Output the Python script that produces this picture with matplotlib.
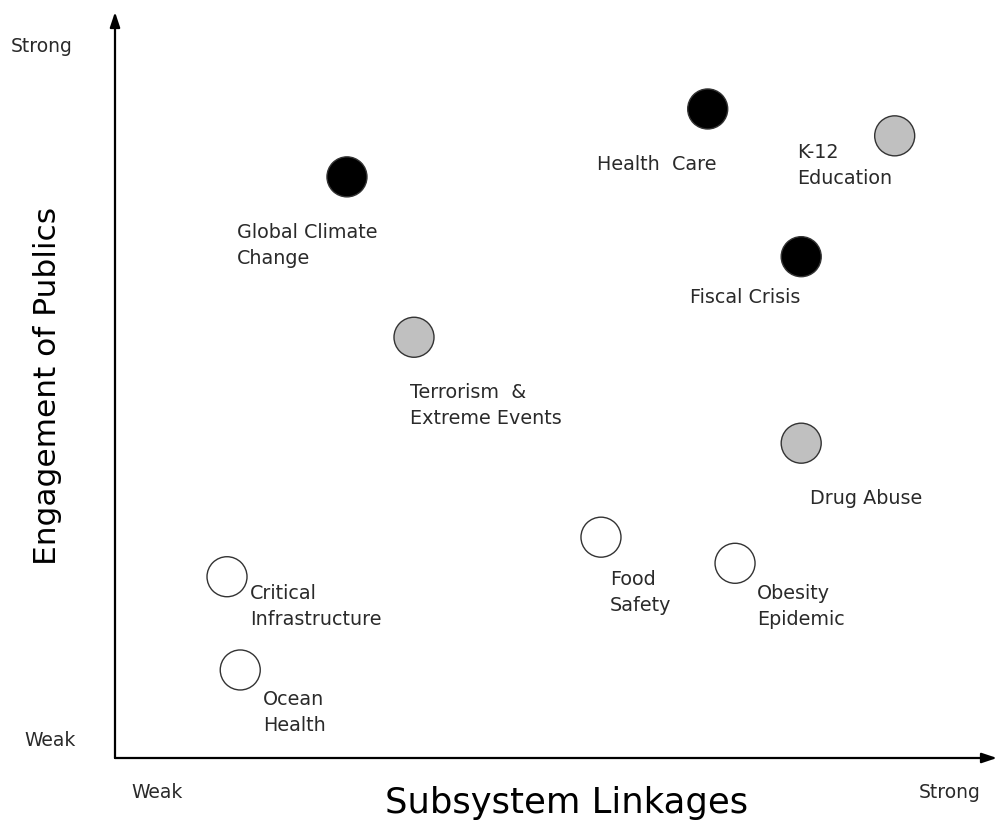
import matplotlib
matplotlib.use("Agg")
import matplotlib.pyplot as plt

# Data (0-10 scale: Weak -> Strong)
labels = ["Global Climate\nChange", "Health  Care", "K-12\nEducation", "Fiscal Crisis",
          "Terrorism  &\nExtreme Events", "Drug Abuse", "Food\nSafety",
          "Obesity\nEpidemic", "Critical\nInfrastructure", "Ocean\nHealth"]
linkages = [2.63, 6.72, 8.84, 7.78, 3.39, 7.78, 5.51, 7.03, 1.27, 1.42]
engagement = [7.79, 8.70, 8.34, 6.72, 5.64, 4.22, 2.96, 2.61, 2.43, 1.18]
fills = ["black", "black", "#c0c0c0", "black", "#c0c0c0", "#c0c0c0",
         "white", "white", "white", "white"]
# label offsets in pixels (dx, dy) from point centre
offsets_px = [(-110, -68.5), (-111, -56), (-98, -30), (-111, -41), (-4, -68.5),
              (9, -55), (9, -55.5), (22, -43.5), (23, -29.5), (23, -42.5)]

plt.rcParams['font.family'] = ['DejaVu Sans']
txt_color = '#2a2a2a'

W, H = 997, 825
fig = plt.figure(figsize=(W / 100, H / 100), dpi=100)
x0, y0, x1, y1 = 115, 758, 997, 12
ax = fig.add_axes([x0 / W, (H - y0) / H, (x1 - x0) / W, (y0 - y1) / H])
ax.set_xlim(0, 10)
ax.set_ylim(0, 10)
ax.axis('off')

# axes with arrows
for end in [(1, 0), (0, 1)]:
    ax.annotate('', xy=end, xytext=(0, 0), xycoords='axes fraction',
                arrowprops=dict(arrowstyle='-|>,head_length=0.9,head_width=0.3',
                                color='black', lw=1.6, shrinkA=0, shrinkB=0))

ax.scatter(linkages, engagement, s=830, c=fills, edgecolors='#333333',
           linewidths=1.0, zorder=3, clip_on=False)

for lab, x, y, (dx, dy) in zip(labels, linkages, engagement, offsets_px):
    ax.annotate(lab, (x, y), xytext=(dx * 0.72, dy * 0.72), textcoords='offset points',
                ha='left', va='center', fontsize=13.8, color=txt_color, linespacing=1.45)

# axis end labels and titles (figure pixel coords)
def ftext(px, py, s, **kw):
    fig.text(px / W, 1 - py / H, s, color=txt_color, **kw)

ftext(42, 46, "Strong", ha='center', va='center', fontsize=13.5)
ftext(50, 740, "Weak", ha='center', va='center', fontsize=13.5)
ftext(157, 793, "Weak", ha='center', va='center', fontsize=13.5)
ftext(950, 793, "Strong", ha='center', va='center', fontsize=13.5)
fig.text(47 / W, 1 - 386 / H, "Engagement of Publics", rotation=90, ha='center',
         va='center', fontsize=22.5, color='black')
fig.text(567 / W, 1 - 803 / H, "Subsystem Linkages", ha='center', va='center',
         fontsize=25.5, color='black')

fig.savefig("out.png", dpi=100)
